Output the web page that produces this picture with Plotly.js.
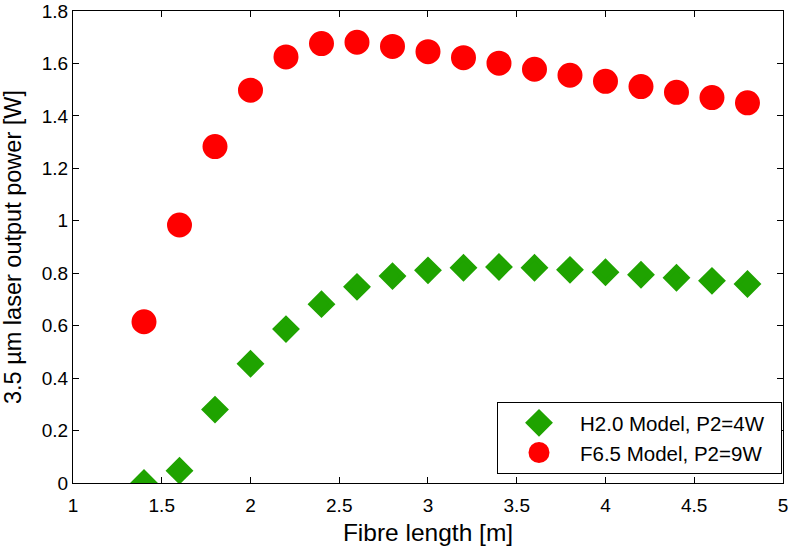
<!DOCTYPE html>
<html>
<head>
<meta charset="utf-8">
<script src="https://cdn.plot.ly/plotly-3.0.1.min.js"></script>
<style>html,body{margin:0;padding:0;background:#fff;}#chart{width:789px;height:550px;}</style>
</head>
<body>
<div id="chart"></div>
<script>
// Data
const fibreLength = [1.4, 1.6, 1.8, 2.0, 2.2, 2.4, 2.6, 2.8, 3.0, 3.2, 3.4, 3.6, 3.8, 4.0, 4.2, 4.4, 4.6, 4.8];
const powerH20 = [0.0, 0.047, 0.28, 0.455, 0.587, 0.682, 0.748, 0.789, 0.811, 0.821, 0.824, 0.821, 0.813, 0.804, 0.794, 0.783, 0.771, 0.759];
const powerF65 = [0.615, 0.984, 1.283, 1.498, 1.625, 1.676, 1.681, 1.665, 1.645, 1.622, 1.601, 1.578, 1.555, 1.532, 1.512, 1.490, 1.470, 1.450];
const seriesNames = ['H2.0 Model, P2=4W', 'F6.5 Model, P2=9W'];
const xTicks = [1, 1.5, 2, 2.5, 3, 3.5, 4, 4.5, 5];
const yTicks = [0, 0.2, 0.4, 0.6, 0.8, 1, 1.2, 1.4, 1.6, 1.8];

const green = 'rgb(31,163,0)';
const red = 'rgb(255,0,0)';
const FONT = 'Liberation Sans, Arial, Helvetica, sans-serif';
const PAD = '\u00a0\u00a0'; // invisible right padding inside the legend box

const traces = [
  {
    x: fibreLength, y: powerH20, type: 'scatter', mode: 'markers', name: seriesNames[0] + PAD,
    marker: { symbol: 'diamond', size: 16, color: green, line: { width: 5, color: green } }
  },
  {
    x: fibreLength, y: powerF65, type: 'scatter', mode: 'markers', name: seriesNames[1] + PAD,
    marker: { symbol: 'circle', size: 20, color: red, line: { width: 5, color: red } }
  }
];

const axisCommon = {
  showgrid: false, zeroline: false, showline: true, linecolor: '#000', linewidth: 1,
  ticks: 'inside', ticklen: 6, tickwidth: 1, tickcolor: '#000', mirror: 'ticks',
  tickfont: { family: FONT, size: 19, color: '#000' }, automargin: false,
  ticklabeloverflow: 'allow'
};

const layout = {
  width: 789, height: 550,
  margin: { l: 73, r: 6, t: 11, b: 67 },
  paper_bgcolor: '#fff', plot_bgcolor: '#fff',
  font: { family: FONT, color: '#000' },
  xaxis: Object.assign({}, axisCommon, {
    range: [1, 5.0001], tickmode: 'array', tickvals: xTicks, ticktext: xTicks.map(String),
    ticklabelstandoff: 5,
    title: { text: 'Fibre length [m]', font: { family: FONT, size: 24.5, color: '#000' }, standoff: 9 }
  }),
  yaxis: Object.assign({}, axisCommon, {
    range: [0, 1.8001], tickmode: 'array', tickvals: yTicks, ticktext: yTicks.map(String),
    title: { text: '3.5 µm laser output power [W]', font: { family: FONT, size: 23.5, color: '#000' }, standoff: 13 }
  }),
  legend: {
    x: 0.9986, xanchor: 'right', y: 0.019, yanchor: 'bottom',
    bgcolor: '#fff', bordercolor: '#000', borderwidth: 1,
    font: { family: FONT, size: 20.5, color: '#000' },
    itemwidth: 72, tracegroupgap: 0
  },
  showlegend: true
};

Plotly.newPlot('chart', traces, layout, { displayModeBar: false, staticPlot: true });
</script>
</body>
</html>
